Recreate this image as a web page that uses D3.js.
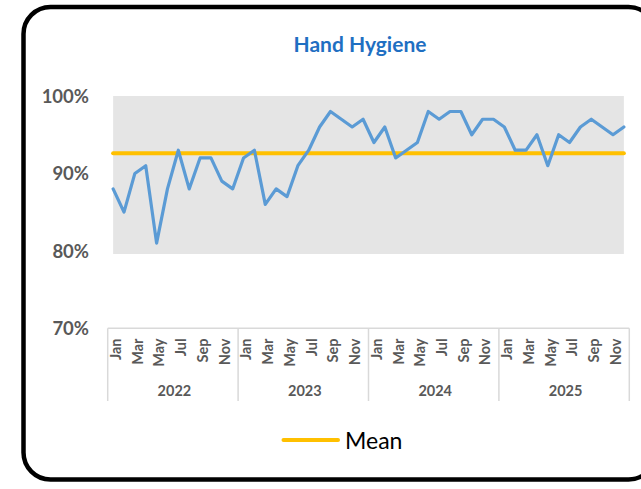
<!DOCTYPE html>
<html><head><meta charset="utf-8">
<script src="https://cdn.jsdelivr.net/npm/d3@7"></script>
<style>html,body{margin:0;padding:0;background:#fff;}svg{display:block;}</style>
</head><body>
<svg id="c" width="641" height="489"></svg>
<script>
const title = "Hand Hygiene";
const years = ["2022","2023","2024","2025"];
const months = ["Jan","Feb","Mar","Apr","May","Jun","Jul","Aug","Sep","Oct","Nov","Dec"];
const values = [
  88,85,90,91,81,88,93,88,92,92,89,88,
  92,93,86,88,87,91,93,96,98,97,96,97,
  94,96,92,93,94,98,97,98,98,95,97,97,
  96,93,93,95,91,95,94,96,97,96,95,96
];
const meanValue = [92.6];
const bandRange = [79.6, 100];
const yTicks = [70, 80, 90, 100];
const legendLabel = "Mean";

const svg = d3.select("#c");
const font = "Lato, 'Liberation Sans', sans-serif";
const cats = [];
years.forEach(y => months.forEach(m => cats.push(y + "-" + m)));

const x = d3.scaleBand().domain(cats).range([107.7, 629.3]).padding(0);
const cx = c => x(c) + x.bandwidth() / 2;
const y = d3.scaleLinear().domain([70, 100]).range([328.3, 96]);

// frame
svg.append("rect").attr("x", 23.5).attr("y", 7).attr("width", 632).attr("height", 472.5)
  .attr("rx", 27).attr("ry", 27).attr("fill", "#fff").attr("stroke", "#000").attr("stroke-width", 4.5);

// title
svg.append("text").attr("x", 360).attr("y", 51.5).attr("text-anchor", "middle")
  .attr("font-family", font).attr("font-weight", "bold").attr("font-size", 21)
  .attr("fill", "#1F6FC2").text(title);

// gray band (area series)
svg.append("path")
  .attr("fill", "#E5E5E5")
  .attr("d", d3.area().x(c => cx(c)).y0(y(bandRange[0])).y1(y(bandRange[1]))(cats));

// y labels
svg.append("g").selectAll("text").data(yTicks).join("text")
  .attr("x", 89).attr("y", d => y(d)).attr("dy", "0.36em").attr("text-anchor", "end")
  .attr("font-family", font).attr("font-weight", "bold").attr("font-size", 18.5)
  .attr("fill", "#595959").text(d => d + "%");

// category axis
const axisColor = "#D9D9D9";
svg.append("line").attr("x1", 107.7).attr("x2", 629.3).attr("y1", y(70)).attr("y2", y(70))
  .attr("stroke", axisColor).attr("stroke-width", 1.5);
const sepX = years.map(yr => x(yr + "-Jan")).concat([x(years[years.length-1] + "-Dec") + x.bandwidth()]);
svg.append("g").selectAll("line").data(sepX).join("line")
  .attr("x1", d => d).attr("x2", d => d).attr("y1", y(70)).attr("y2", 401)
  .attr("stroke", axisColor).attr("stroke-width", 1.5);

// month labels
svg.append("g").selectAll("text").data(cats.filter((c, i) => i % 2 === 0)).join("text")
  .attr("transform", c => `translate(${cx(c) + 2.6},338.5) rotate(-90)`)
  .attr("dy", "0.36em").attr("text-anchor", "end")
  .attr("font-family", font).attr("font-weight", "bold").attr("font-size", 14.5)
  .attr("fill", "#595959").text(c => c.split("-")[1]);

// year labels
svg.append("g").selectAll("text").data(years).join("text")
  .attr("x", yr => (x(yr + "-Jan") + x(yr + "-Dec") + x.bandwidth()) / 2 + 1.5)
  .attr("y", 391).attr("dy", "0.36em").attr("text-anchor", "middle")
  .attr("font-family", font).attr("font-weight", "bold").attr("font-size", 14.5)
  .attr("fill", "#595959").text(d => d);

// mean line
svg.append("line").attr("x1", cx(cats[0])).attr("x2", cx(cats[cats.length-1]))
  .attr("y1", y(meanValue[0])).attr("y2", y(meanValue[0]))
  .attr("stroke", "#FFC000").attr("stroke-width", 4).attr("stroke-linecap", "round");

// data line
svg.append("path").datum(values)
  .attr("fill", "none").attr("stroke", "#5B9BD5").attr("stroke-width", 3.2)
  .attr("stroke-linejoin", "round").attr("stroke-linecap", "round")
  .attr("d", d3.line().x((d, i) => cx(cats[i])).y(d => y(d)));

// legend
svg.append("line").attr("x1", 283.5).attr("x2", 338).attr("y1", 440).attr("y2", 440)
  .attr("stroke", "#FFC000").attr("stroke-width", 4).attr("stroke-linecap", "round");
svg.append("text").attr("x", 345).attr("y", 448.5)
  .attr("font-family", font).attr("font-size", 23).attr("fill", "#000").text(legendLabel);
</script>
</body></html>
